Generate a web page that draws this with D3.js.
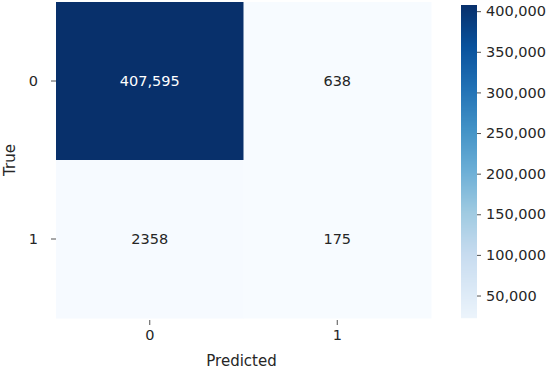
<!DOCTYPE html>
<html>
<head>
<meta charset="utf-8">
<script src="https://cdn.jsdelivr.net/npm/d3@7"></script>
<style>
  body { margin: 0; background: #fff; }
  svg text { font-family: "DejaVu Sans", sans-serif; fill: #262626; }
</style>
</head>
<body>
<svg id="chart" width="550" height="370"></svg>
<script>
// Confusion matrix data
const trueLabels = ['0', '1'];
const predLabels = ['0', '1'];
const counts = [
    [407595, 638],
    [2358, 175]
];
const colorbarTicks = [50000, 100000, 150000, 200000, 250000, 300000, 350000, 400000];

// Layout
const heat = { left: 56, right: 431, top: 2, bottom: 318 };
const bar = { left: 461, right: 477, top: 5, bottom: 336 };

const svg = d3.select('#chart');

const flat = counts.flat();
const [vmin, vmax] = d3.extent(flat);

// Blues colormap (same 9 anchors as matplotlib)
const blues = d3.schemeBlues[9];
const color = d3.scaleLinear()
    .domain(d3.range(blues.length).map(i => vmin + (vmax - vmin) * i / (blues.length - 1)))
    .range(blues)
    .interpolate(d3.interpolateRgb)
    .clamp(true);

const xScale = d3.scaleBand().domain(predLabels).range([heat.left, heat.right]);
const yScale = d3.scaleBand().domain(trueLabels).range([heat.top, heat.bottom]);

const cells = [];
trueLabels.forEach((t, i) => {
    predLabels.forEach((p, j) => {
        cells.push({ t, p, v: counts[i][j] });
    });
});

const fmt = v => v >= 10000 ? d3.format(',')(v) : d3.format('d')(v);

// Cells
svg.selectAll('.cell')
    .data(cells)
    .enter()
    .append('rect')
    .attr('class', 'cell')
    .attr('x', d => xScale(d.p))
    .attr('y', d => yScale(d.t))
    .attr('width', xScale.bandwidth() + 0.5)
    .attr('height', yScale.bandwidth() + 0.5)
    .attr('fill', d => color(d.v));

// Annotations
svg.selectAll('.annot')
    .data(cells)
    .enter()
    .append('text')
    .attr('class', 'annot')
    .attr('x', d => xScale(d.p) + xScale.bandwidth() / 2)
    .attr('y', d => yScale(d.t) + yScale.bandwidth() / 2)
    .attr('text-anchor', 'middle')
    .attr('dominant-baseline', 'central')
    .style('font-size', '14.5px')
    .style('fill', d => d3.hsl(color(d.v)).l < 0.5 ? '#ffffff' : '#262626')
    .text(d => fmt(d.v));

// Axes
const xAxis = d3.axisBottom(xScale).tickSize(5).tickPadding(5);
const yAxis = d3.axisLeft(yScale).tickSize(5).tickPadding(13);

svg.append('g')
    .attr('transform', `translate(0, ${heat.bottom + 2})`)
    .call(xAxis)
    .call(g => g.select('.domain').remove())
    .call(g => g.selectAll('line').attr('stroke', '#262626').attr('stroke-width', 0.8))
    .call(g => g.selectAll('text').style('font-size', '14.5px').attr('font-family', null));

svg.append('g')
    .attr('transform', `translate(${heat.left}, 0)`)
    .call(yAxis)
    .call(g => g.select('.domain').remove())
    .call(g => g.selectAll('line').attr('stroke', '#262626').attr('stroke-width', 0.8))
    .call(g => g.selectAll('text').style('font-size', '14.5px').attr('font-family', null));

// Axis titles
svg.append('text')
    .attr('x', (heat.left + heat.right) / 2 - 2)
    .attr('y', 366)
    .attr('text-anchor', 'middle')
    .style('font-size', '15px')
    .text('Predicted');

svg.append('text')
    .attr('transform', `translate(15, ${(heat.top + heat.bottom) / 2}) rotate(-90)`)
    .attr('text-anchor', 'middle')
    .style('font-size', '15px')
    .text('True');

// Colorbar
const cbScale = d3.scaleLinear().domain([vmin, vmax]).range([bar.bottom, bar.top]);
const barVisibleBottom = heat.bottom;
const strips = d3.range(bar.top, barVisibleBottom);

svg.append('g')
    .selectAll('rect')
    .data(strips)
    .enter()
    .append('rect')
    .attr('x', bar.left)
    .attr('y', d => d)
    .attr('width', bar.right - bar.left)
    .attr('height', 1.2)
    .attr('fill', d => color(cbScale.invert(d + 0.5)));

const cbAxis = d3.axisRight(cbScale)
    .tickValues(colorbarTicks)
    .tickFormat(d3.format(','))
    .tickSize(4)
    .tickPadding(5);

svg.append('g')
    .attr('transform', `translate(${bar.right}, 0)`)
    .call(cbAxis)
    .call(g => g.select('.domain').remove())
    .call(g => g.selectAll('line').attr('stroke', '#262626').attr('stroke-width', 0.8))
    .call(g => g.selectAll('text').style('font-size', '14.5px').attr('font-family', null));
</script>
</body>
</html>
